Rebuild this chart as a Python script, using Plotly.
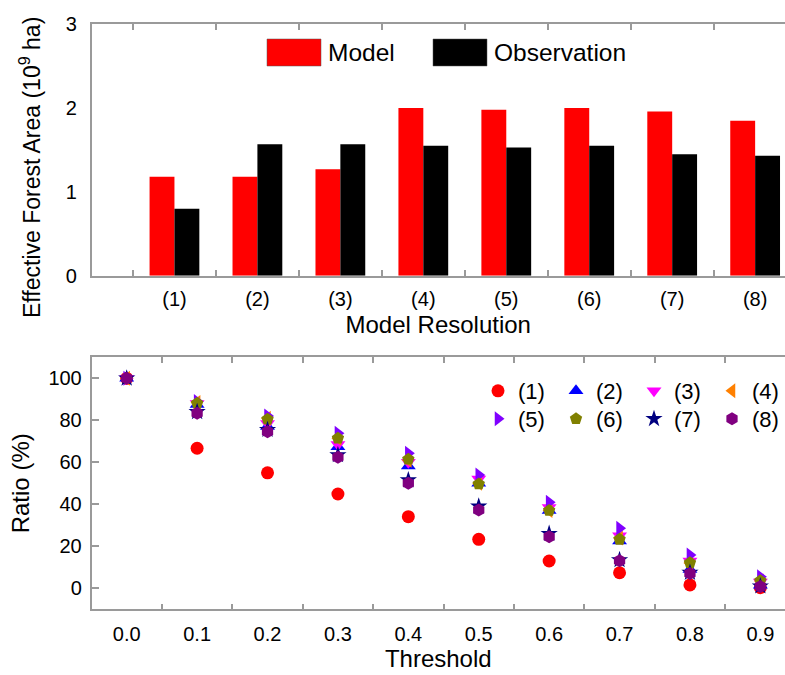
import plotly.graph_objects as go

W, H = 785, 675
FONT = "Arial, Liberation Sans, sans-serif"
AXC = "#9a9a9a"

# ---- top chart data ----
res_idx = [1, 2, 3, 4, 5, 6, 7, 8]
res_labels = ["(1)", "(2)", "(3)", "(4)", "(5)", "(6)", "(7)", "(8)"]
model_area = [1.18, 1.18, 1.27, 2.00, 1.98, 2.00, 1.96, 1.85]
obs_area = [0.80, 1.57, 1.57, 1.55, 1.53, 1.55, 1.45, 1.43]

# ---- bottom chart data ----
thresholds = [0.0, 0.1, 0.2, 0.3, 0.4, 0.5, 0.6, 0.7, 0.8, 0.9]
thr_labels = ["0.0", "0.1", "0.2", "0.3", "0.4", "0.5", "0.6", "0.7", "0.8", "0.9"]
ratio_1 = [100, 66.7, 55.0, 44.9, 34.1, 23.3, 13.0, 7.4, 1.6, 0.3]
ratio_2 = [100, 87.5, 77.0, 67.4, 58.2, 50.0, 37.0, 22.5, 9.0, 1.5]
ratio_3 = [100, 88.0, 78.5, 68.5, 60.0, 52.0, 38.5, 25.0, 13.0, 3.0]
ratio_4 = [100, 88.5, 81.0, 71.5, 61.0, 50.0, 37.0, 24.0, 12.0, 3.5]
ratio_5 = [100, 89.0, 82.0, 73.8, 64.3, 54.0, 41.0, 28.6, 15.9, 5.5]
ratio_6 = [100, 88.1, 80.5, 71.4, 61.4, 49.7, 37.0, 23.3, 12.2, 3.6]
ratio_7 = [100, 84.0, 75.5, 63.5, 51.5, 39.0, 26.0, 13.5, 7.5, 1.0]
ratio_8 = [100, 83.3, 74.6, 62.4, 50.0, 37.3, 24.6, 13.1, 7.1, 0.8]
series_names = ["(1)", "(2)", "(3)", "(4)", "(5)", "(6)", "(7)", "(8)"]
series_vals = [ratio_1, ratio_2, ratio_3, ratio_4, ratio_5, ratio_6, ratio_7, ratio_8]
series_colors = ["#FF0000", "#0000FF", "#FF00FF", "#FF8000",
                 "#8000FF", "#808000", "#000080", "#800080"]
series_symbols = ["circle", "triangle-up", "triangle-down", "triangle-left",
                  "triangle-right", "pentagon", "star", "hexagon"]

def px_x(p):
    return p / W

def px_y(p):
    return 1 - p / H

fig = go.Figure()

fig.add_trace(go.Bar(x=res_idx, y=model_area, name="Model", marker_color="#FF0000",
                     marker_line_width=0, xaxis="x", yaxis="y", showlegend=False))
fig.add_trace(go.Bar(x=res_idx, y=obs_area, name="Observation", marker_color="#000000",
                     marker_line_width=0, xaxis="x", yaxis="y", showlegend=False))

for i, (nm, vals, col, sym) in enumerate(zip(series_names, series_vals, series_colors, series_symbols)):
    fig.add_trace(go.Scatter(
        x=thresholds, y=vals, mode="markers", name=nm,
        marker=dict(color=col, symbol=sym, size=13, line_width=0),
        xaxis="x2", yaxis="y2",
        legend="legend2" if i < 4 else "legend3",
    ))

left = px_x(91.5)

axis_common = dict(showline=True, linecolor=AXC, linewidth=1.5, showgrid=False,
                   zeroline=False, tickfont=dict(size=20, color="black", family=FONT),
                   automargin=False)

fig.update_layout(
    width=W, height=H,
    margin=dict(l=0, r=0, t=0, b=0, autoexpand=False),
    paper_bgcolor="white", plot_bgcolor="white",
    font=dict(family=FONT, color="black"),
    barmode="group", bargap=0.4, bargroupgap=0,
    xaxis=dict(domain=[left, 1], range=[0, 8.36], anchor="y",
               tickvals=res_idx, ticktext=res_labels, ticks="inside", ticklen=0,
               mirror="ticks",
               minor=dict(tickvals=[0.5 + k for k in range(9)], ticks="inside",
                          ticklen=6, tickcolor=AXC, tickwidth=1.5),
               ticklabelstandoff=5,
               title=dict(text="Model Resolution", font=dict(size=24), standoff=7),
               **axis_common),
    yaxis=dict(domain=[px_y(275.7), px_y(24.3)], range=[0, 3], anchor="x",
               tickvals=[0, 1, 2, 3], ticks="", ticklabelstandoff=9,
               **axis_common),
    xaxis2=dict(domain=[left, 1], range=[-0.05, 0.935], anchor="y2",
                tickvals=thresholds, ticktext=thr_labels, ticks="inside", ticklen=0,
                mirror="ticks",
                minor=dict(tickvals=[0.05 + 0.1 * k for k in range(10)], ticks="inside",
                           ticklen=6, tickcolor=AXC, tickwidth=1.5),
                ticklabelstandoff=6,
                title=dict(text="Threshold", font=dict(size=24), standoff=6),
                **axis_common),
    yaxis2=dict(domain=[px_y(609.3), px_y(357.3)], range=[-10, 110], anchor="x2",
                tickvals=[0, 20, 40, 60, 80, 100], ticks="inside", ticklen=8,
                tickcolor=AXC, tickwidth=1.5, ticklabelstandoff=4,
                title=dict(text="Ratio (%)", font=dict(size=24), standoff=12),
                **axis_common),
    legend2=dict(orientation="h", x=px_x(478), y=px_y(391), xanchor="left", yanchor="middle",
                 entrywidth=33, entrywidthmode="pixels", font=dict(size=22),
                 bgcolor="rgba(0,0,0,0)", borderwidth=0, itemclick=False),
    legend3=dict(orientation="h", x=px_x(478), y=px_y(419), xanchor="left", yanchor="middle",
                 entrywidth=33, entrywidthmode="pixels", font=dict(size=22),
                 bgcolor="rgba(0,0,0,0)", borderwidth=0, itemclick=False),
)

# top chart y-axis title placed as in the reference (slightly below the axis centre)
fig.add_annotation(xref="paper", yref="paper", x=px_x(30), y=px_y(168),
                   xanchor="center", yanchor="middle", textangle=-90, showarrow=False,
                   text="Effective Forest Area (10<sup>9</sup> ha)",
                   font=dict(size=23, family=FONT, color="black"))

# top chart legend keys (drawn manually in paper coords)
legend_keys = [("Model", "#FF0000", 267, 321), ("Observation", "#000000", 433, 487)]
for label, col, x0, x1 in legend_keys:
    fig.add_shape(type="rect", xref="paper", yref="paper",
                  x0=px_x(x0), x1=px_x(x1), y0=px_y(66), y1=px_y(39),
                  fillcolor=col, line=dict(color="#555555", width=0.5))
    fig.add_annotation(xref="paper", yref="paper", x=px_x(x1 + 5), y=px_y(52.5),
                       xanchor="left", yanchor="middle", text=label, showarrow=False,
                       font=dict(size=24.5, family=FONT, color="black"))

fig.write_html("out.html")
